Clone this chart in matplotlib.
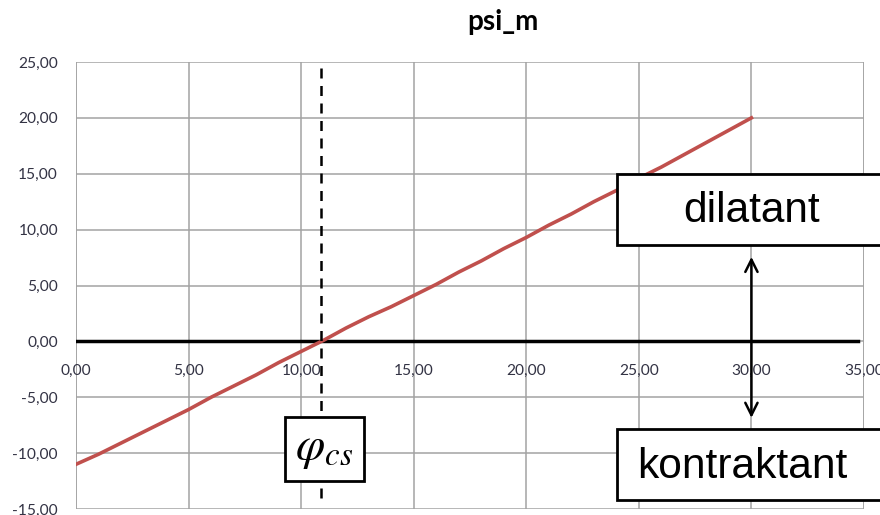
import matplotlib
matplotlib.use("Agg")
import matplotlib.pyplot as plt
from matplotlib.patches import Rectangle

# reibungswinkel phi [°] und dilatanzwinkel psi_m [°]
phi = list(range(0, 31))
psi_m = [-11.0, -10.1, -9.1, -8.1, -7.1, -6.1, -5.0, -4.0, -3.0, -1.9, -0.9,
         0.1, 1.2, 2.2, 3.1, 4.1, 5.1, 6.2, 7.2, 8.3, 9.3,
         10.4, 11.4, 12.5, 13.5, 14.6, 15.6, 16.7, 17.8, 18.9, 20.0]
phi_cs = 10.9

xticks = [0, 5, 10, 15, 20, 25, 30, 35]
yticks = [-15, -10, -5, 0, 5, 10, 15, 20, 25]

plt.rcParams["mathtext.fontset"] = "stix"

fig = plt.figure(figsize=(8.8, 5.15), dpi=100)
ax = fig.add_axes([76/880, 6/515, 788/880, 447/515])
ax.set_xlim(0, 35)
ax.set_ylim(-15, 25)

for s in ax.spines.values():
    s.set_visible(False)
ax.set_xticks(xticks)
ax.set_yticks(yticks)
ax.grid(True, color="#a3a3a3", lw=1.1)
ax.axvline(0, color="#a3a3a3", lw=1.1)
ax.axvline(35, color="#a3a3a3", lw=1.1)
ax.set_axisbelow(True)

fmt = lambda v: ("%.2f" % v).replace(".", ",")
ax.set_yticklabels([fmt(v) for v in yticks], fontsize=11.2, color="#333344", family="Lato")
ax.set_xticklabels([])
ax.tick_params(length=0, pad=13)
for v in xticks:
    ax.text(v, -2.64, fmt(v), ha="center", va="center", fontsize=11.2,
            color="#333344", family="Lato")

# horizontale achse bei 0
ax.plot([0, 34.75], [0, 0], color="black", lw=2.5, zorder=3)

ax.plot(phi, psi_m, color="#c0504d", lw=2.6, zorder=4)

ax.plot([phi_cs, phi_cs], [-14.0, 24.5], color="black", lw=1.8, ls=(0, (4, 3)), zorder=5)

fig.text(503/880, 1 - 22/515, "psi_m", ha="center", va="center",
         fontsize=20, fontweight="bold", family="Lato")

# beschriftungen
box = dict(facecolor="white", edgecolor="black", lw=2, zorder=6, clip_on=False)
ax.add_patch(Rectangle((9.29, -12.48), 3.51, 5.73, **box))
ax.add_patch(Rectangle((24.04, 8.63), 12, 6.35, **box))
ax.add_patch(Rectangle((24.04, -14.18), 12, 6.35, **box))

ax.text(11.0, -9.6, r"$\varphi_{cs}$", ha="center", va="center", fontsize=34, zorder=7)
ax.text(30.0, 11.7, "dilatant", ha="center", va="center", fontsize=30.5,
        family="Liberation Sans", zorder=7)
ax.text(29.58, -11.2, "kontraktant", ha="center", va="center", fontsize=30.6,
        family="Liberation Sans", zorder=7)

ax.annotate("", xy=(30, 7.56), xytext=(30, -6.84),
            arrowprops=dict(arrowstyle="<->", color="black", lw=1.8,
                            mutation_scale=22, shrinkA=0, shrinkB=0), zorder=7)

fig.savefig("out.png", dpi=100)
